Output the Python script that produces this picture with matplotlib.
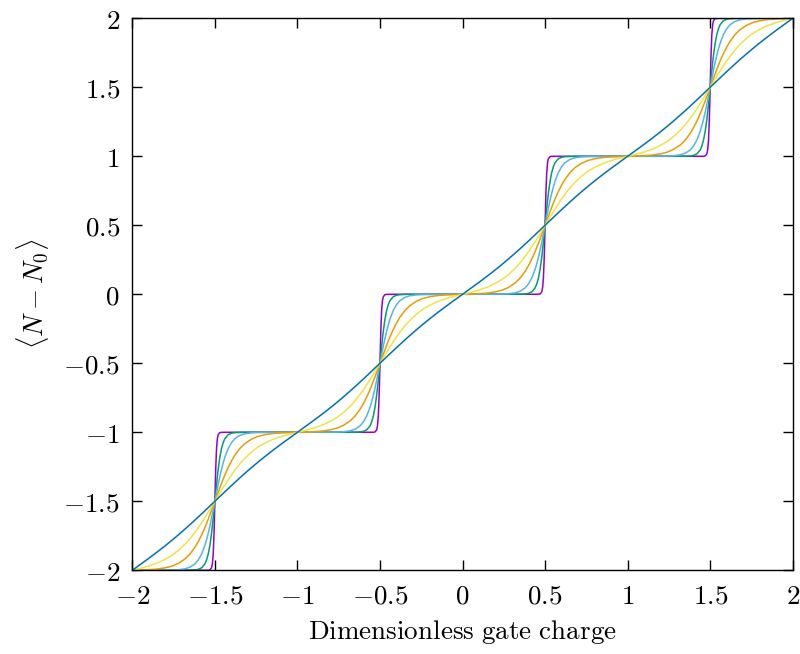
import numpy as np
import matplotlib
matplotlib.use("Agg")
import matplotlib.pyplot as plt

plt.rcParams['mathtext.fontset'] = 'cm'
plt.rcParams['font.family'] = 'serif'
plt.rcParams['font.serif'] = ['DejaVu Serif']

# half-period profile: offset from a step centre (gate charge)
# and offset of <N - N0> from the step midpoint, one array per curve
d = [0.0, 0.005, 0.01, 0.015, 0.02, 0.03, 0.04, 0.05, 0.06, 0.08, 0.10,
     0.12, 0.15, 0.18, 0.22, 0.26, 0.30, 0.35, 0.40, 0.45, 0.50]
g_purple = [0.0, 0.231, 0.381, 0.453, 0.482, 0.4975, 0.4997, 0.5, 0.5, 0.5, 0.5,
            0.5, 0.5, 0.5, 0.5, 0.5, 0.5, 0.5, 0.5, 0.5, 0.5]
g_green = [0.0, 0.062, 0.1225, 0.179, 0.231, 0.318, 0.381, 0.424, 0.453, 0.482, 0.493,
           0.4975, 0.4994, 0.4999, 0.5, 0.5, 0.5, 0.5, 0.5, 0.5, 0.5]
g_lblue = [0.0, 0.031, 0.062, 0.093, 0.1225, 0.179, 0.231, 0.277, 0.318, 0.381, 0.424,
           0.453, 0.477, 0.489, 0.496, 0.4985, 0.4994, 0.4998, 0.5, 0.5, 0.5]
g_orange = [0.0, 0.0167, 0.0333, 0.0498, 0.0663, 0.0987, 0.130, 0.161, 0.190, 0.244, 0.291,
            0.332, 0.381, 0.417, 0.449, 0.470, 0.482, 0.491, 0.4955, 0.498, 0.5]
g_yellow = [0.0, 0.010, 0.020, 0.030, 0.040, 0.060, 0.0795, 0.099, 0.118, 0.155, 0.191,
            0.224, 0.270, 0.310, 0.355, 0.392, 0.420, 0.448, 0.469, 0.4855, 0.5]
g_blue = [0.0, 0.0057, 0.0114, 0.0172, 0.0229, 0.0343, 0.0457, 0.0571, 0.0684, 0.091, 0.1134,
          0.1356, 0.1684, 0.2006, 0.2423, 0.2825, 0.3214, 0.3681, 0.4131, 0.4569, 0.5]

curves = [g_purple, g_green, g_lblue, g_orange, g_yellow, g_blue]
colors = ['#9400d3', '#009e73', '#56b4e9', '#e69f00', '#f0e442', '#0072b2']

step_centres = [-1.5, -0.5, 0.5, 1.5]

xticks = [-2, -1.5, -1, -0.5, 0, 0.5, 1, 1.5, 2]
tick_labels = ['$-2$', '$-1.5$', '$-1$', '$-0.5$', '$0$', '$0.5$', '$1$', '$1.5$', '$2$']


def staircase(dd, gg):
    # profile is odd about each step centre and repeats with period 1
    dd = np.asarray(dd)
    gg = np.asarray(gg)
    xs, ys = [], []
    for c in step_centres:
        xs.append(c + np.concatenate([-dd[::-1], dd[1:]]))
        ys.append(c + np.concatenate([-gg[::-1], gg[1:]]))
    return np.concatenate(xs), np.concatenate(ys)


fig = plt.figure(figsize=(8, 6.54), dpi=100)
ax = fig.add_axes([0.1654, 0.128, 0.8255, 0.844])

for gg, col in zip(curves, colors):
    x, y = staircase(d, gg)
    ax.plot(x, y, color=col, linewidth=1.1)

ax.set_xlim(-2, 2)
ax.set_ylim(-2, 2)
ax.set_xticks(xticks)
ax.set_xticklabels(tick_labels)
ax.set_yticks(xticks)
ax.set_yticklabels(tick_labels)
ax.tick_params(direction='in', top=True, right=True, length=7, width=1,
               labelsize=19.5, pad=9)
for s in ax.spines.values():
    s.set_linewidth(1.0)

ax.set_xlabel(r'$\mathrm{Dimensionless\ gate\ charge}$', fontsize=19.5, labelpad=6)
ax.set_ylabel(r'$\langle N - N_0\rangle$', fontsize=19.5, labelpad=9)

fig.savefig('out.png', dpi=100)
